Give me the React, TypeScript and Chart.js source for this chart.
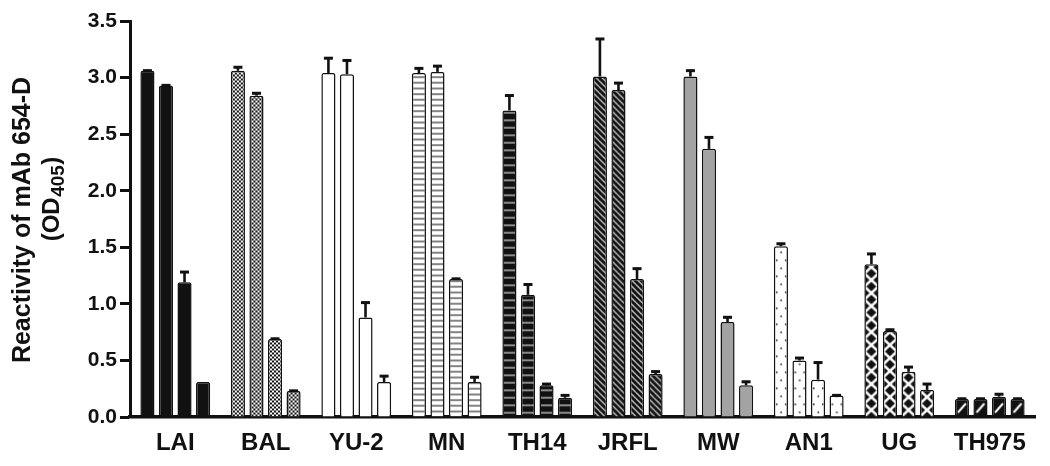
import { useEffect, useRef } from 'react';
import { Chart, registerables } from 'chart.js';

Chart.register(...registerables);

// ---------- data ----------
const categories = ['LAI', 'BAL', 'YU-2', 'MN', 'TH14', 'JRFL', 'MW', 'AN1', 'UG', 'TH975'];
const bar1 = [3.06, 3.06, 3.04, 3.04, 2.71, 3.01, 3.01, 1.51, 1.35, 0.16];
const bar2 = [2.93, 2.84, 3.03, 3.05, 1.08, 2.89, 2.37, 0.50, 0.76, 0.16];
const bar3 = [1.19, 0.69, 0.88, 1.22, 0.28, 1.22, 0.84, 0.33, 0.40, 0.18];
const bar4 = [0.31, 0.23, 0.31, 0.31, 0.17, 0.38, 0.28, 0.19, 0.24, 0.16];
const err1 = [0.01, 0.04, 0.14, 0.05, 0.14, 0.34, 0.06, 0.03, 0.10, 0.01];
const err2 = [0.01, 0.03, 0.13, 0.06, 0.10, 0.07, 0.11, 0.03, 0.02, 0.01];
const err3 = [0.10, 0.01, 0.14, 0.01, 0.02, 0.10, 0.05, 0.16, 0.05, 0.03];
const err4 = [0.00, 0.01, 0.06, 0.05, 0.03, 0.03, 0.04, 0.01, 0.06, 0.01];
const groupFills = ['solid', 'checker', 'white', 'hlines', 'hlinesDark', 'diag', 'grey', 'dots', 'xcross', 'slash'];
const yTitleLine1 = 'Reactivity of mAb 654-D';
const yTitleMain = '(OD';
const yTitleSub = '405';
const yTitleEnd = ')';

const FONT = "Arial, 'Liberation Sans', Helvetica, sans-serif";
const INK = '#111111';

function makeTile(kind: string): HTMLCanvasElement | null {
  const c = document.createElement('canvas');
  const g = c.getContext('2d')!;
  const size = (w: number, h: number) => { c.width = w; c.height = h; };
  switch (kind) {
    case 'checker':
      size(4, 4);
      g.fillStyle = '#fff'; g.fillRect(0, 0, 4, 4);
      g.fillStyle = INK; g.fillRect(0, 0, 2, 2); g.fillRect(2, 2, 2, 2);
      return c;
    case 'hlines':
      size(4, 17);
      g.fillStyle = '#fff'; g.fillRect(0, 0, 4, 17);
      g.fillStyle = '#333';
      g.fillRect(0, 0, 4, 1.2); g.fillRect(0, 5.67, 4, 1.2); g.fillRect(0, 11.33, 4, 1.2);
      return c;
    case 'hlinesDark':
      size(4, 15);
      g.fillStyle = INK; g.fillRect(0, 0, 4, 15);
      g.fillStyle = '#b5b5b5';
      g.fillRect(0, 3, 4, 1.5); g.fillRect(0, 10.5, 4, 1.5);
      return c;
    case 'diag': {
      size(6, 6);
      g.fillStyle = INK; g.fillRect(0, 0, 6, 6);
      g.strokeStyle = '#fff'; g.lineWidth = 1.1;
      for (let k = -1; k <= 1; k++) {
        g.beginPath(); g.moveTo(k * 6, 0); g.lineTo(k * 6 + 6, 6); g.stroke();
      }
      return c;
    }
    case 'dots':
      size(9, 16);
      g.fillStyle = '#fff'; g.fillRect(0, 0, 9, 16);
      g.fillStyle = '#222';
      g.fillRect(2, 3, 1.6, 1.6); g.fillRect(6.5, 11, 1.6, 1.6);
      return c;
    case 'xcross': {
      size(14, 13);
      g.fillStyle = INK; g.fillRect(0, 0, 14, 13);
      g.strokeStyle = '#fff'; g.lineWidth = 2.6;
      for (let k = -1; k <= 1; k++) {
        g.beginPath(); g.moveTo(k * 14, 0); g.lineTo(k * 14 + 14, 13); g.stroke();
        g.beginPath(); g.moveTo(k * 14 + 14, 0); g.lineTo(k * 14, 13); g.stroke();
      }
      return c;
    }
    case 'slash':
      size(14, 18);
      g.fillStyle = INK; g.fillRect(0, 0, 14, 18);
      g.strokeStyle = '#fff'; g.lineWidth = 2;
      g.beginPath(); g.moveTo(3, 14); g.lineTo(11, 5); g.stroke();
      return c;
    default:
      return null;
  }
}

const patternCache = new Map<string, any>();
function fillFor(chart: any, kind: string, key: string): any {
  if (kind === 'solid') return INK;
  if (kind === 'white') return '#ffffff';
  if (kind === 'grey') return '#a3a3a3';
  const k = kind + '|' + key;
  if (!patternCache.has(k)) {
    const tile = makeTile(kind);
    patternCache.set(k, tile ? chart.ctx.createPattern(tile, 'repeat') : '#fff');
  }
  return patternCache.get(k);
}

const patternAlignPlugin = {
  id: 'patternAlign',
  beforeDatasetsDraw(chart: any) {
    chart.data.datasets.forEach((_: any, di: number) => {
      const meta = chart.getDatasetMeta(di);
      meta.data.forEach((el: any) => {
        const bg = el.options && el.options.backgroundColor;
        if (bg && typeof bg === 'object' && typeof bg.setTransform === 'function') {
          const p = el.getProps(['x', 'width', 'base'], true);
          bg.setTransform(new DOMMatrix([1, 0, 0, 1, p.x - p.width / 2, p.base]));
        }
      });
    });
  },
};

const errorSets = [err1, err2, err3, err4];
const errorBarPlugin = {
  id: 'errorBars',
  afterDatasetsDraw(chart: any) {
    const ctx = chart.ctx;
    const ys = chart.scales.y;
    ctx.save();
    ctx.strokeStyle = INK;
    chart.data.datasets.forEach((ds: any, di: number) => {
      const meta = chart.getDatasetMeta(di);
      meta.data.forEach((el: any, i: number) => {
        const e = errorSets[di][i];
        if (!(e > 0.004)) return;
        const v = ds.data[i];
        const yv = ys.getPixelForValue(v);
        const yt = ys.getPixelForValue(v + e);
        ctx.lineWidth = 2.6;
        ctx.beginPath(); ctx.moveTo(el.x, yv); ctx.lineTo(el.x, yt); ctx.stroke();
        ctx.lineWidth = 3;
        ctx.beginPath(); ctx.moveTo(el.x - 4.5, yt + 1); ctx.lineTo(el.x + 4.5, yt + 1); ctx.stroke();
      });
    });
    ctx.restore();
  },
};

const yTitlePlugin = {
  id: 'yTitle',
  afterDraw(chart: any) {
    const ctx = chart.ctx;
    ctx.save();
    ctx.fillStyle = INK;
    ctx.textBaseline = 'alphabetic';
    // line 1
    ctx.save();
    ctx.translate(30, 220);
    ctx.rotate(-Math.PI / 2);
    ctx.font = `bold 25px ${FONT}`;
    ctx.textAlign = 'center';
    ctx.fillText(yTitleLine1, 0, 0);
    ctx.restore();
    // line 2 with subscript
    ctx.save();
    ctx.translate(59, 199);
    ctx.rotate(-Math.PI / 2);
    ctx.textAlign = 'left';
    const gap = 0.5;
    ctx.font = `bold 24px ${FONT}`;
    const w1 = ctx.measureText(yTitleMain).width;
    const w3 = ctx.measureText(yTitleEnd).width;
    ctx.font = `bold 19px ${FONT}`;
    const w2 = ctx.measureText(yTitleSub).width;
    let x = -(w1 + w2 + w3 + 2 * gap) / 2;
    ctx.font = `bold 24px ${FONT}`;
    ctx.fillText(yTitleMain, x, 0);
    x += w1 + gap;
    ctx.font = `bold 19px ${FONT}`;
    ctx.fillText(yTitleSub, x, 5);
    x += w2 + gap;
    ctx.font = `bold 24px ${FONT}`;
    ctx.fillText(yTitleEnd, x, 0);
    ctx.restore();
    ctx.restore();
  },
};

export default function App() {
  const ref = useRef<HTMLCanvasElement>(null);
  useEffect(() => {
    const series = [bar1, bar2, bar3, bar4];
    const chart = new Chart(ref.current!, {
      type: 'bar',
      data: {
        labels: categories,
        datasets: series.map((values, di) => ({
          label: `Bar ${di + 1}`,
          data: values,
          backgroundColor: (c: any) =>
            c.type === 'data' ? fillFor(c.chart, groupFills[c.dataIndex], `${di}-${c.dataIndex}`) : '#fff',
          borderColor: INK,
          borderWidth: 1.5,
          borderRadius: 2,
          borderSkipped: 'start',
          categoryPercentage: 0.82,
          barPercentage: 0.76,
        })),
      },
      options: {
        responsive: false,
        devicePixelRatio: 1,
        animation: false,
        events: [],
        layout: { padding: { top: 21, right: 15, bottom: 0, left: 0 } },
        plugins: {
          legend: { display: false },
          tooltip: { enabled: false },
        },
        scales: {
          x: {
            type: 'category',
            offset: true,
            z: 1,
            grid: { display: false, drawTicks: false },
            border: { display: true, width: 3.5, color: INK },
            ticks: {
              color: INK,
              font: { family: FONT, size: 24, weight: 'bold' },
              padding: 12,
              maxRotation: 0,
              autoSkip: false,
            },
            afterFit: (s: any) => { s.height = 49; },
          },
          y: {
            min: 0,
            max: 3.5,
            grid: { display: true, drawOnChartArea: false, drawTicks: true, tickLength: 10, tickWidth: 3, tickColor: INK },
            border: { display: true, width: 3, color: INK },
            ticks: {
              stepSize: 0.5,
              color: INK,
              padding: 3,
              font: { family: FONT, size: 21, weight: 'bold' },
              callback: (v: any) => Number(v).toFixed(1),
            },
            afterFit: (s: any) => { s.width = 130; },
          },
        },
      } as any,
      plugins: [patternAlignPlugin, errorBarPlugin, yTitlePlugin],
    });
    return () => chart.destroy();
  }, []);
  return (
    <div style={{ position: 'fixed', left: 0, top: 0, width: 1050, height: 466, background: '#fff' }}>
      <canvas ref={ref} width={1050} height={466} style={{ width: 1050, height: 466, display: 'block' }} />
    </div>
  );
}
